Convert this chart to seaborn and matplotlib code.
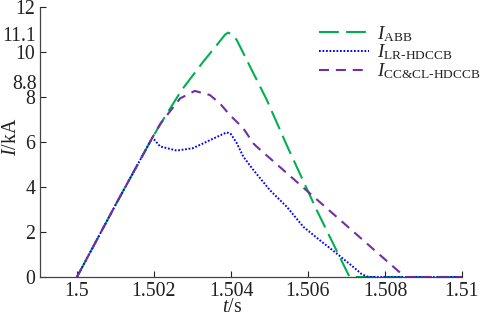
import matplotlib
matplotlib.use("Agg")
import matplotlib.pyplot as plt
import seaborn as sns
import pandas as pd

# ---- data ----
t_abb = [1.5, 1.501, 1.50196, 1.50224, 1.50272, 1.50328, 1.50367, 1.50385, 1.50393,
         1.50405, 1.50415, 1.50493, 1.50545, 1.50623, 1.50708, 1.51]
i_abb = [0, 3.2, 6.2, 7.0, 8.31, 9.57, 10.39, 10.78, 10.86,
         10.75, 10.53, 7.87, 5.85, 2.96, 0, 0]

t_lr = [1.5, 1.501, 1.50196, 1.50216, 1.50259, 1.5030, 1.50328, 1.5036, 1.50389,
        1.5040, 1.50415, 1.50432, 1.50458, 1.50501, 1.50545, 1.50588, 1.50631,
        1.50675, 1.50718, 1.5074, 1.50757, 1.51]
i_lr = [0, 3.2, 6.2, 5.8, 5.62, 5.72, 5.94, 6.2, 6.43,
        6.35, 5.95, 5.35, 4.76, 3.86, 3.12, 2.23, 1.63,
        1.04, 0.44, 0.12, 0, 0]

t_cc = [1.5, 1.501, 1.50196, 1.50216, 1.50268, 1.50306, 1.50345, 1.50371, 1.50397,
        1.50432, 1.50458, 1.50467, 1.50852, 1.51]
i_cc = [0, 3.2, 6.2, 6.8, 7.94, 8.27, 8.09, 7.72, 7.2,
        6.61, 5.94, 5.79, 0, 0]

labels = [r"$I_{\mathrm{ABB}}$", "$I_{\\mathrm{LR\u2010HDCCB}}$",
          "$I_{\\mathrm{CC&CL\u2010HDCCB}}$"]
yticks_major = [0, 2, 4, 6, 8, 10, 12]
yticks_extra_labels = ["8.8", "11.1"]
xticks = [1.5, 1.502, 1.504, 1.506, 1.508, 1.51]
xtick_labels = ["1.5", "1.502", "1.504", "1.506", "1.508", "1.51"]

sns.set_style("ticks")
plt.rcParams["font.family"] = ["Liberation Serif", "DejaVu Serif"]
plt.rcParams["mathtext.fontset"] = "custom"
plt.rcParams["mathtext.rm"] = "Liberation Serif"
plt.rcParams["mathtext.it"] = "Liberation Serif:italic"
plt.rcParams["mathtext.bf"] = "Liberation Serif:bold"

FS = 14.3
fig = plt.figure(figsize=(4.84, 3.16), dpi=100)
ax = fig.add_axes([40 / 484, 1 - 277 / 316, (462 - 40) / 484, (277 - 7) / 316])

df_abb = pd.DataFrame({"t": t_abb, "I": i_abb})
df_lr = pd.DataFrame({"t": t_lr, "I": i_lr})
df_cc = pd.DataFrame({"t": t_cc, "I": i_cc})

sns.lineplot(data=df_abb, x="t", y="I", ax=ax, color="#00B050", lw=1.5, label=labels[0], sort=False)
ax.lines[-1].set_dashes((9.5, 3.5))
sns.lineplot(data=df_lr, x="t", y="I", ax=ax, color="#0000FF", lw=1.4, label=labels[1], sort=False)
ax.lines[-1].set_dashes((0.9, 0.9))
sns.lineplot(data=df_cc, x="t", y="I", ax=ax, color="#7030A0", lw=1.5, label=labels[2], sort=False)
ax.lines[-1].set_dashes((4.8, 3.3))

ax.set_xlim(1.49904, 1.51)
ax.set_ylim(0, 12)
ax.set_xticks(xticks)
ax.set_xticklabels(xtick_labels)
ax.set_yticks(yticks_major)
ax.set_yticks([8.68, 10.78], minor=True)
ax.set_yticklabels(yticks_extra_labels, minor=True)
ax.tick_params(axis="both", which="major", direction="in", length=4, width=0.8,
               labelsize=FS, pad=3.6, colors="#222222")
ax.tick_params(axis="y", which="minor", length=0, labelsize=FS, pad=2.5, labelcolor="#222222")
ax.tick_params(axis="x", which="minor", length=0)
for s in ["top", "right"]:
    ax.spines[s].set_visible(False)
for s in ["left", "bottom"]:
    ax.spines[s].set_color("#444444")
    ax.spines[s].set_linewidth(0.9)

ax.set_xlabel(r"$t$/s", fontsize=FS, color="#222222")
ax.set_ylabel(r"$I$/kA", fontsize=FS, color="#222222")
ax.xaxis.set_label_coords((232 - 40) / 422, -0.077)
ax.yaxis.set_label_coords(-0.045, (277 - 136.5) / 270)

leg = ax.legend(loc="upper left", bbox_to_anchor=(319 / 484, 1 - 24 / 316), bbox_transform=fig.transFigure,
                frameon=False, fontsize=13.8, handlelength=2.6, handletextpad=0.42,
                labelspacing=-0.05, borderaxespad=0, borderpad=0)
for txt in leg.get_texts():
    txt.set_color("#222222")

fig.savefig("out.png", dpi=100)
